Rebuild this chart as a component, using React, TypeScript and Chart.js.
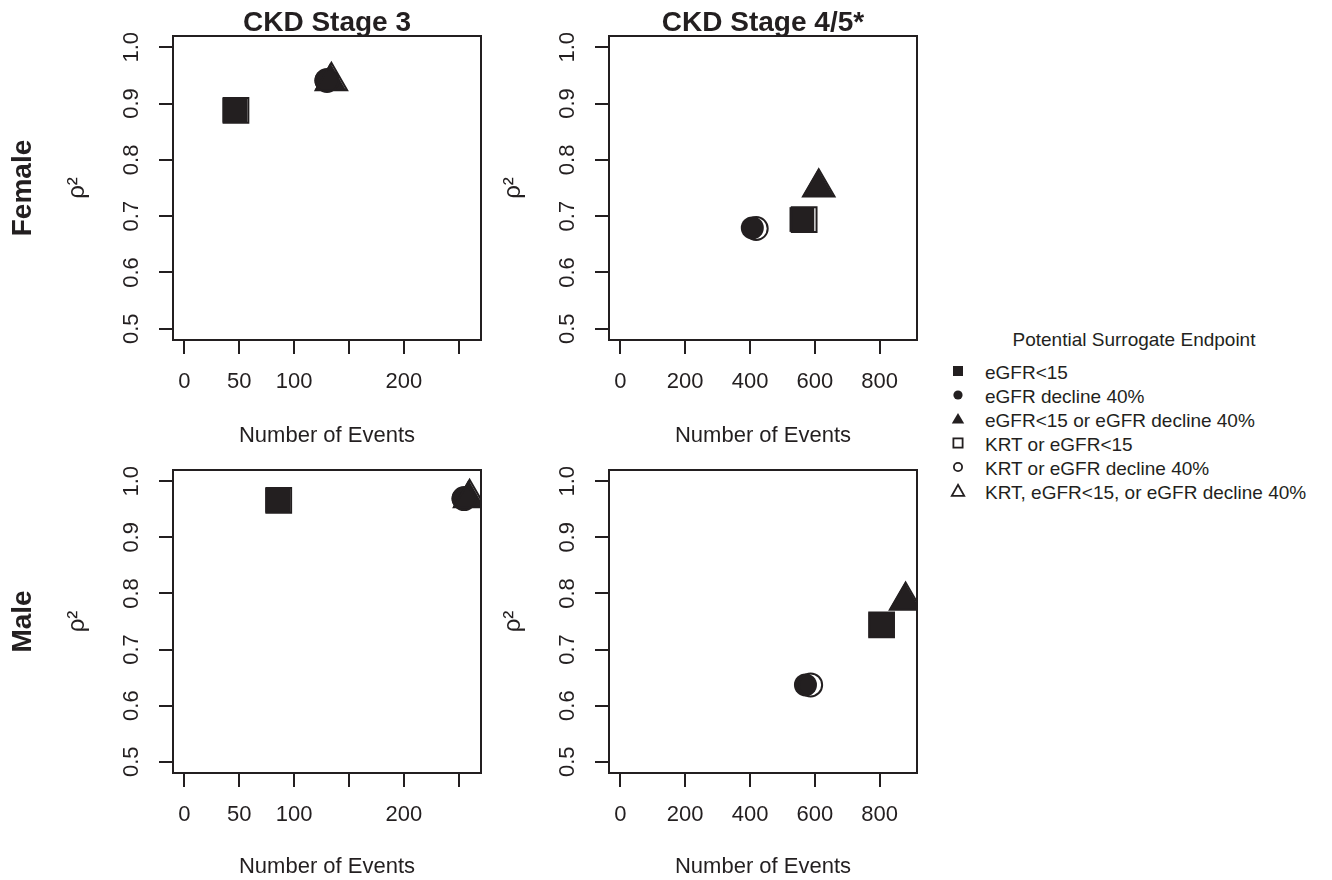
import React, { useEffect, useRef } from 'react';
import { Chart, registerables } from 'chart.js';

Chart.register(...registerables);

const FONT = "'Liberation Sans', Arial, Helvetica, sans-serif";
const INK = '#231f20';

// ---------- data ----------
const endpoints = [
  'eGFR<15',
  'eGFR decline 40%',
  'eGFR<15 or eGFR decline 40%',
  'KRT or eGFR<15',
  'KRT or eGFR decline 40%',
  'KRT, eGFR<15, or eGFR decline 40%',
];

const columnTitles = ['CKD Stage 3', 'CKD Stage 4/5*'];
const rowTitles = ['Female', 'Male'];

// number of events / rho^2, in the order of `endpoints`
const femaleStage3Events = [46, 129, 133, 47, 130, 134];
const femaleStage3Rho2 = [0.888, 0.941, 0.940, 0.888, 0.941, 0.940];
const femaleStage45Events = [560, 407, 610, 567, 419, 612];
const femaleStage45Rho2 = [0.694, 0.679, 0.751, 0.694, 0.678, 0.751];
const maleStage3Events = [85, 254, 259, 86, 255, 260];
const maleStage3Rho2 = [0.966, 0.969, 0.970, 0.966, 0.969, 0.970];
const maleStage45Events = [804, 571, 878, 806, 587, 880];
const maleStage45Rho2 = [0.744, 0.637, 0.787, 0.744, 0.637, 0.787];

const yTicks = [0.5, 0.6, 0.7, 0.8, 0.9, 1.0];
const yLabels = ['0.5', '0.6', '0.7', '0.8', '0.9', '1.0'];
const yRange = [0.48, 1.02];

const xTicksStage3 = [0, 50, 100, 150, 200, 250];
const xLabelsStage3 = ['0', '50', '100', '', '200', ''];
const xRangeStage3 = [-10.4, 270.4];

const xTicksStage45 = [0, 200, 400, 600, 800];
const xLabelsStage45 = ['0', '200', '400', '600', '800'];
const xRangeStage45 = [-35.2, 915.2];

// ---------- marker styles ----------
const markers = [
  { style: 'rect', r: 17.5, filled: true },
  { style: 'circle', r: 11.5, filled: true },
  { style: 'triangle', r: 18.2, filled: true },
  { style: 'rect', r: 17.5, filled: false },
  { style: 'circle', r: 11.5, filled: false },
  { style: 'triangle', r: 18.2, filled: false },
];

Chart.defaults.font.family = FONT;
Chart.defaults.color = INK;

const framePlugin = {
  id: 'frame',
  afterDraw(chart: any, _args: any, opts: any) {
    const { ctx, chartArea: a } = chart;
    ctx.save();
    ctx.strokeStyle = INK;
    ctx.lineWidth = 2;
    ctx.strokeRect(a.left, a.top, a.right - a.left, a.bottom - a.top);
    if (opts && opts.rowLabel) {
      ctx.translate(opts.rowLabelX, (a.top + a.bottom) / 2);
      ctx.rotate(-Math.PI / 2);
      ctx.font = `bold 28px ${FONT}`;
      ctx.fillStyle = INK;
      ctx.textAlign = 'center';
      ctx.textBaseline = 'middle';
      ctx.fillText(opts.rowLabel, 0, 0);
    }
    ctx.restore();
  },
};

type PanelProps = {
  events: number[];
  rho2: number[];
  xTicks: number[];
  xLabels: string[];
  xRange: number[];
  title?: string;
  rowLabel?: string;
  left: number;
  top: number;
  width: number;
  height: number;
  yAxisWidth: number;
  yTitlePad: number;
  padRight: number;
  padTop: number;
  xAxisHeight: number;
  xTitlePad: number;
};

function Panel(p: PanelProps) {
  const ref = useRef<HTMLCanvasElement | null>(null);
  useEffect(() => {
    if (!ref.current) return;
    const grid = {
      display: true,
      drawOnChartArea: false,
      drawTicks: true,
      tickLength: 14,
      tickWidth: 2,
      tickColor: INK,
      color: INK,
      lineWidth: 2,
    };
    const zeroPad = (s: any) => {
      s.paddingLeft = 0;
      s.paddingRight = 0;
      s.paddingTop = 0;
      s.paddingBottom = 0;
    };
    const chart = new Chart(ref.current, {
      type: 'scatter',
      data: {
        datasets: markers.map((m, i) => ({
          label: endpoints[i],
          data: [{ x: p.events[i], y: p.rho2[i] }],
          pointStyle: m.style as any,
          pointRadius: m.r,
          backgroundColor: m.filled ? INK : 'rgba(0,0,0,0)',
          borderColor: INK,
          borderWidth: m.filled ? 0 : 2,
          showLine: false,
          order: markers.length - 1 - i,
          clip: 0,
        })),
      },
      options: {
        animation: false,
        responsive: false,
        events: [],
        layout: {
          autoPadding: false,
          padding: { left: 0, right: p.padRight, top: p.padTop, bottom: 0 },
        },
        plugins: {
          legend: { display: false },
          tooltip: { enabled: false },
          title: p.title
            ? {
                display: true,
                text: p.title,
                color: INK,
                fullSize: false,
                font: { size: 28, weight: 'bold', lineHeight: 1 },
                padding: { top: 9, bottom: -1 },
              }
            : { display: false },
          frame: { rowLabel: p.rowLabel, rowLabelX: 23 },
        } as any,
        scales: {
          x: {
            type: 'linear',
            min: p.xRange[0],
            max: p.xRange[1],
            afterBuildTicks: (s: any) => {
              s.ticks = p.xTicks.map((v) => ({ value: v }));
            },
            afterFit: (s: any) => {
              s.height = p.xAxisHeight;
              zeroPad(s);
            },
            ticks: {
              autoSkip: false,
              minRotation: 0,
              maxRotation: 0,
              padding: 15,
              color: INK,
              font: { size: 22 },
              callback: (_v: any, i: number) => p.xLabels[i],
            },
            grid,
            border: { display: false },
            title: {
              display: true,
              text: 'Number of Events',
              color: INK,
              font: { size: 22 },
              padding: { top: 0, bottom: p.xTitlePad },
            },
          },
          y: {
            type: 'linear',
            min: yRange[0],
            max: yRange[1],
            afterBuildTicks: (s: any) => {
              s.ticks = yTicks.map((v) => ({ value: v }));
            },
            afterFit: (s: any) => {
              s.width = p.yAxisWidth;
              zeroPad(s);
            },
            ticks: {
              autoSkip: false,
              minRotation: 90,
              maxRotation: 90,
              crossAlign: 'center',
              padding: 12,
              color: INK,
              font: { size: 22 },
              callback: (_v: any, i: number) => yLabels[i],
            },
            grid,
            border: { display: false },
            title: {
              display: true,
              text: 'ρ²',
              color: INK,
              font: { size: 24 },
              padding: { top: p.yTitlePad, bottom: 0 },
            },
          },
        },
      } as any,
      plugins: [framePlugin as any],
    });
    return () => chart.destroy();
  }, []);
  return (
    <canvas
      ref={ref}
      width={p.width}
      height={p.height}
      style={{ position: 'absolute', left: p.left, top: p.top, width: p.width, height: p.height, display: 'block' }}
    />
  );
}

function LegendSymbol({ i }: { i: number }) {
  const sw = 1.8;
  switch (i) {
    case 0:
      return <rect x={5} y={5} width={10} height={10} fill={INK} />;
    case 1:
      return <circle cx={10} cy={10} r={4.6} fill={INK} />;
    case 2:
      return <polygon points="10,4 16.2,14.6 3.8,14.6" fill={INK} />;
    case 3:
      return <rect x={5.4} y={5.4} width={9.2} height={9.2} fill="none" stroke={INK} strokeWidth={sw} />;
    case 4:
      return <circle cx={10} cy={10} r={4.1} fill="none" stroke={INK} strokeWidth={sw} />;
    default:
      return <polygon points="10,3.8 16.2,14.8 3.8,14.8" fill="none" stroke={INK} strokeWidth={sw} strokeLinejoin="miter" />;
  }
}

function Legend() {
  const textStyle: React.CSSProperties = {
    position: 'absolute',
    fontFamily: FONT,
    fontSize: 19,
    lineHeight: '24px',
    color: INK,
    whiteSpace: 'nowrap',
  };
  return (
    <>
      <div style={{ ...textStyle, left: 934, width: 400, top: 328, textAlign: 'center' }}>
        Potential Surrogate Endpoint
      </div>
      {endpoints.map((label, i) => (
        <React.Fragment key={i}>
          <svg
            width={20}
            height={20}
            style={{ position: 'absolute', left: 948, top: 361 + 24 * i }}
          >
            <LegendSymbol i={i} />
          </svg>
          <div style={{ ...textStyle, left: 985, top: 361 + 24 * i }}>{label}</div>
        </React.Fragment>
      ))}
    </>
  );
}

export default function App() {
  const col1 = { left: 0, width: 490, yAxisWidth: 173, yTitlePad: 63, padRight: 9 };
  const col2 = { left: 490, width: 442, yAxisWidth: 119, yTitlePad: 9, padRight: 15 };
  const row1 = { top: 0, height: 456, padTop: 0, xAxisHeight: 116, xTitlePad: 7 };
  const row2 = { top: 456, height: 424, padTop: 14, xAxisHeight: 107, xTitlePad: 0 };
  return (
    <div
      style={{
        position: 'absolute',
        left: 0,
        top: 0,
        width: 1332,
        height: 880,
        background: '#ffffff',
        overflow: 'hidden',
      }}
    >
      <Panel
        {...col1}
        {...row1}
        title={columnTitles[0]}
        rowLabel={rowTitles[0]}
        events={femaleStage3Events}
        rho2={femaleStage3Rho2}
        xTicks={xTicksStage3}
        xLabels={xLabelsStage3}
        xRange={xRangeStage3}
      />
      <Panel
        {...col2}
        {...row1}
        title={columnTitles[1]}
        events={femaleStage45Events}
        rho2={femaleStage45Rho2}
        xTicks={xTicksStage45}
        xLabels={xLabelsStage45}
        xRange={xRangeStage45}
      />
      <Panel
        {...col1}
        {...row2}
        rowLabel={rowTitles[1]}
        events={maleStage3Events}
        rho2={maleStage3Rho2}
        xTicks={xTicksStage3}
        xLabels={xLabelsStage3}
        xRange={xRangeStage3}
      />
      <Panel
        {...col2}
        {...row2}
        events={maleStage45Events}
        rho2={maleStage45Rho2}
        xTicks={xTicksStage45}
        xLabels={xLabelsStage45}
        xRange={xRangeStage45}
      />
      <Legend />
    </div>
  );
}
